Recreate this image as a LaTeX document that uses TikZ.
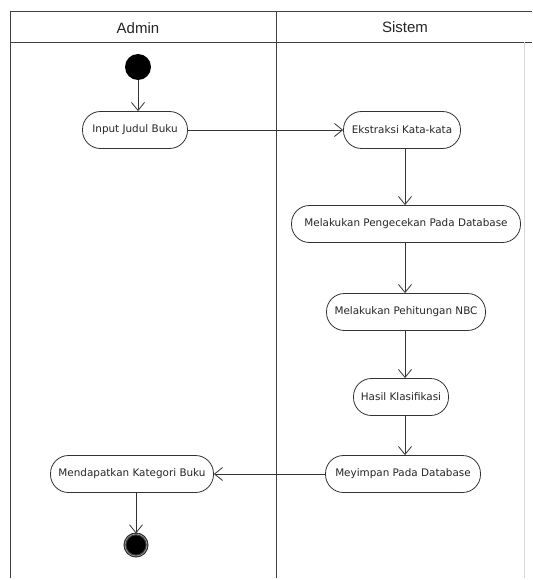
\documentclass[tikz,border=0pt]{standalone}
\usepackage{fontspec}
\setmainfont{Liberation Sans}
\newfontfamily\actfont{DejaVu Sans}
\usetikzlibrary{arrows.meta}
\begin{document}
\begin{tikzpicture}[x=1pt,y=-1pt,
  lane/.style={draw=black!75, line width=0.9pt},
  lanelabel/.style={font=\fontsize{15}{17}\selectfont, text=black!85},
  action/.style={draw=black!80, line width=0.8pt, rounded corners=18pt,
    minimum height=37pt, inner xsep=3pt, font=\actfont\fontsize{10.4}{12}\selectfont,
    text=black!85, fill=white},
  flow/.style={draw=black!80, line width=0.8pt,
    -{Straight Barb[length=8pt,width=13pt,line width=0.8pt]}},
  startnode/.style={circle, fill=black, minimum size=26pt, inner sep=0pt},
  endnode/.style={circle, fill=black, draw=black!80, double=black!35, double distance=0.6pt,
    line width=1.2pt, minimum size=22pt, inner sep=0pt}
]
\useasboundingbox (0,0) rectangle (532,580);
\fill[white] (0,0) rectangle (532,580);

% swimlane frame
\draw[lane] (532,11) -- (10,11) -- (10,578);
\draw[lane] (10,42) -- (532,42);
\draw[lane] (276,11) -- (276,578);
\draw[black!15, line width=0.6pt] (524,42) -- (524,578);
\node[lanelabel] (admin) at (138,28) {Admin};
\node[lanelabel] (sistem) at (405,27) {Sistem};

% start and end
\node[startnode] (start) at (138,67) {};
\node[endnode] (end) at (136,545) {};

% actions
\node[action, minimum width=105pt] (input) at (135,130) {Input Judul Buku};
\node[action, minimum width=117pt] (ekstraksi) at (402,130) {Ekstraksi Kata-kata};
\node[action, minimum width=229pt] (cek) at (406,224) {Melakukan Pengecekan Pada Database};
\node[action, minimum width=159pt] (nbc) at (406,312) {Melakukan Pehitungan NBC};
\node[action, minimum width=95pt] (hasil) at (401,397) {Hasil Klasifikasi};
\node[action, minimum width=155pt] (simpan) at (403,474) {Meyimpan Pada Database};
\node[action, minimum width=163pt] (kategori) at (132,474) {Mendapatkan Kategori Buku};

% control flow
\draw[flow] (start) -- (start |- input.north);
\draw[flow] (input) -- (ekstraksi);
\draw[flow] (ekstraksi.south -| 405,0) -- (405,0 |- cek.north);
\draw[flow] (cek.south -| 405,0) -- (405,0 |- nbc.north);
\draw[flow] (nbc.south -| 405,0) -- (405,0 |- hasil.north);
\draw[flow] (hasil.south -| 405,0) -- (405,0 |- simpan.north);
\draw[flow] (simpan) -- (kategori);
\draw[flow] (kategori.south -| end) -- (end);
\end{tikzpicture}
\end{document}
